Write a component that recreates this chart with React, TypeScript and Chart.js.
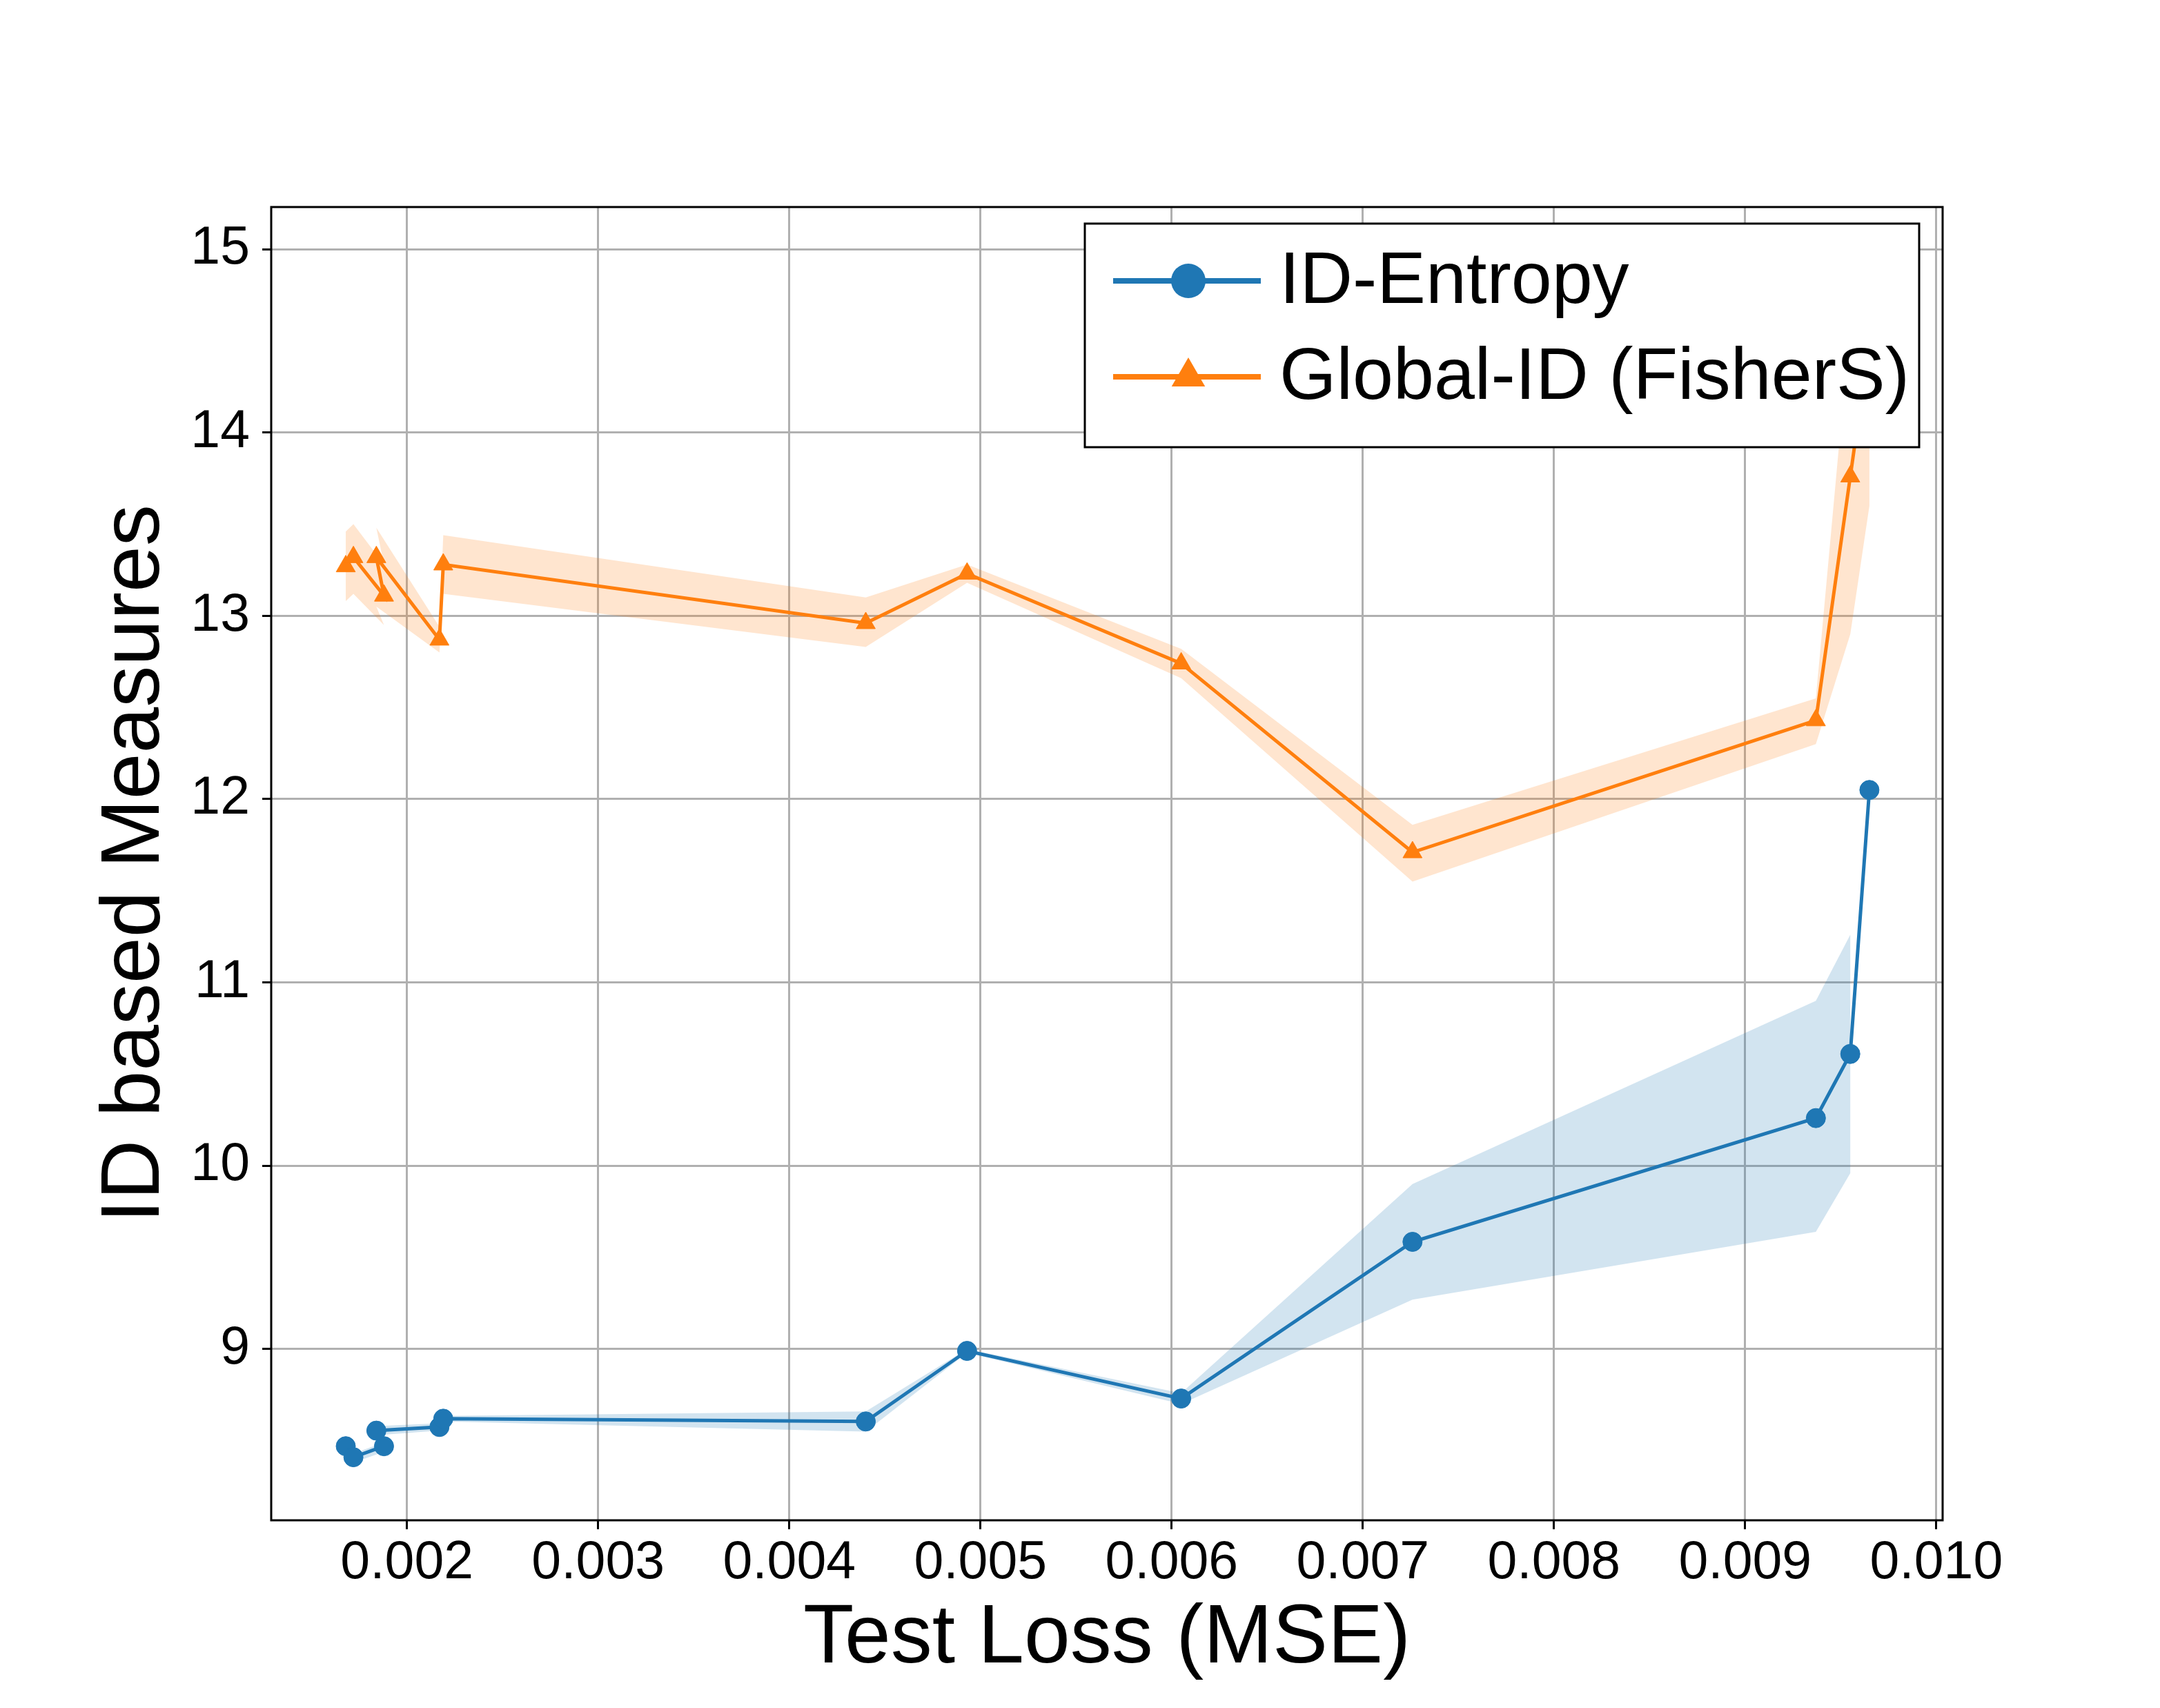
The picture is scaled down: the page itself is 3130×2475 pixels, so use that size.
import { useEffect, useRef } from "react";
import { Chart, registerables, Plugin } from "chart.js";

Chart.register(...registerables);

// test loss (MSE) of each model, in plotting order
const testLoss = [0.00168, 0.00172, 0.00188, 0.00184, 0.00217, 0.00219, 0.0044, 0.00493, 0.00605, 0.00726, 0.00937, 0.00955, 0.00965];

const idEntropy = [8.47, 8.41, 8.47, 8.555, 8.575, 8.62, 8.605, 8.99, 8.73, 9.585, 10.26, 10.61, 12.05];
const idEntropyLow = [8.44, 8.38, 8.44, 8.53, 8.555, 8.605, 8.55, 8.98, 8.7, 9.27, 9.64, 9.96, null];
const idEntropyHigh = [8.49, 8.43, 8.49, 8.58, 8.595, 8.635, 8.66, 9.0, 8.76, 9.9, 10.9, 11.26, null];

const globalId = [13.27, 13.32, 13.11, 13.32, 12.87, 13.28, 12.96, 13.23, 12.74, 11.71, 12.43, 13.76, 14.5];
const globalIdLow = [13.08, 13.12, 12.95, 13.05, 12.8, 13.12, 12.83, 13.18, 12.66, 11.55, 12.3, 12.9, 13.6];
const globalIdHigh = [13.46, 13.5, 13.28, 13.48, 12.94, 13.44, 13.1, 13.28, 12.82, 11.86, 12.55, 14.6, 14.95];

const xTickValues = [0.002, 0.003, 0.004, 0.005, 0.006, 0.007, 0.008, 0.009, 0.01];
const yTickValues = [9, 10, 11, 12, 13, 14, 15];

const seriesNames = ["ID-Entropy", "Global-ID (FisherS)"];

const BLUE = "#1f77b4";
const ORANGE = "#ff7f0e";
const FONT = "'Liberation Sans', Arial, sans-serif";

const toPoints = (ys: number[]) => testLoss.map((x, i) => ({ x, y: ys[i] }));

// closed outline: upper edge forward, lower edge back
const bandShape = (low: (number | null)[], high: (number | null)[]) => {
  const pts: { x: number; y: number }[] = [];
  testLoss.forEach((x, i) => {
    if (high[i] != null) pts.push({ x, y: high[i] as number });
  });
  for (let i = testLoss.length - 1; i >= 0; i--) {
    if (low[i] != null) pts.push({ x: testLoss[i], y: low[i] as number });
  }
  return pts;
};

const frameAndLegend: Plugin<"line"> = {
  id: "frameAndLegend",
  afterDraw(chart) {
    const { ctx, chartArea } = chart;
    ctx.save();
    // axes box
    ctx.strokeStyle = "#000";
    ctx.lineWidth = 3;
    ctx.strokeRect(chartArea.left, chartArea.top, chartArea.right - chartArea.left, chartArea.bottom - chartArea.top);

    // legend box
    const bx = 1572, by = 324, bw = 1209, bh = 324;
    ctx.fillStyle = "#fff";
    ctx.fillRect(bx, by, bw, bh);
    ctx.lineWidth = 3;
    ctx.strokeRect(bx, by, bw, bh);

    const rows = [
      { y: 407, color: BLUE, marker: "circle" },
      { y: 546, color: ORANGE, marker: "triangle" },
    ];
    rows.forEach((row, i) => {
      ctx.strokeStyle = row.color;
      ctx.fillStyle = row.color;
      ctx.lineWidth = 8;
      ctx.beginPath();
      ctx.moveTo(1613, row.y);
      ctx.lineTo(1827, row.y);
      ctx.stroke();
      const cx = 1722;
      ctx.beginPath();
      if (row.marker === "circle") {
        ctx.arc(cx, row.y, 25, 0, Math.PI * 2);
      } else {
        const r = 28;
        ctx.moveTo(cx, row.y - r);
        ctx.lineTo(cx + r * 0.866, row.y + r * 0.5);
        ctx.lineTo(cx - r * 0.866, row.y + r * 0.5);
        ctx.closePath();
      }
      ctx.fill();
      ctx.fillStyle = "#000";
      ctx.font = `106px ${FONT}`;
      ctx.textBaseline = "alphabetic";
      ctx.textAlign = "left";
      ctx.fillText(seriesNames[i], 1854, row.y + 32);
    });
    ctx.restore();
  },
};

export default function App() {
  const canvasRef = useRef<HTMLCanvasElement | null>(null);

  useEffect(() => {
    if (!canvasRef.current) return;

    const chart = new Chart(canvasRef.current, {
      type: "line",
      data: {
        datasets: [
          {
            label: seriesNames[0],
            data: toPoints(idEntropy),
            borderColor: BLUE,
            backgroundColor: BLUE,
            borderWidth: 5,
            pointRadius: 14,
            pointStyle: "circle",
            pointBorderWidth: 1,
            tension: 0,
            order: 0,
          },
          {
            label: seriesNames[1],
            data: toPoints(globalId),
            borderColor: ORANGE,
            backgroundColor: ORANGE,
            borderWidth: 5,
            pointRadius: 16,
            pointStyle: "triangle",
            pointBorderWidth: 1,
            tension: 0,
            order: 0,
          },
          {
            label: "band-blue",
            data: bandShape(idEntropyLow, idEntropyHigh),
            borderColor: "rgba(0,0,0,0)",
            borderWidth: 0,
            backgroundColor: "rgba(31,119,180,0.2)",
            pointRadius: 0,
            fill: "shape",
            tension: 0,
            order: 2,
          },
          {
            label: "band-orange",
            data: bandShape(globalIdLow, globalIdHigh),
            borderColor: "rgba(0,0,0,0)",
            borderWidth: 0,
            backgroundColor: "rgba(255,127,14,0.2)",
            pointRadius: 0,
            fill: "shape",
            tension: 0,
            order: 2,
          },
        ],
      },
      options: {
        animation: false,
        responsive: true,
        maintainAspectRatio: false,
        devicePixelRatio: 1,
        layout: { padding: { left: 0, right: 315, top: 300, bottom: 0 } },
        plugins: {
          legend: { display: false },
          tooltip: { enabled: false },
        },
        scales: {
          x: {
            type: "linear",
            min: 0.00129,
            max: 0.010033,
            afterFit: (scale) => {
              scale.height = 272;
            },
            afterBuildTicks: (scale) => {
              scale.ticks = xTickValues.map((value) => ({ value }));
            },
            border: { display: false },
            grid: {
              color: "#b0b0b0",
              lineWidth: 3,
              tickColor: "#000",
              tickWidth: 3,
              tickLength: 13,
            },
            ticks: {
              color: "#000",
              font: { family: FONT, size: 77 },
              padding: 4,
              maxRotation: 0,
              autoSkip: false,
              callback: (v) => Number(v).toFixed(3),
            },
            title: {
              display: true,
              text: "Test Loss (MSE)",
              color: "#000",
              font: { family: FONT, size: 120 },
              padding: { top: 0, bottom: 27 },
            },
          },
          y: {
            type: "linear",
            min: 8.066,
            max: 15.23,
            afterFit: (scale) => {
              scale.width = 393;
            },
            afterBuildTicks: (scale) => {
              scale.ticks = yTickValues.map((value) => ({ value }));
            },
            border: { display: false },
            grid: {
              color: "#b0b0b0",
              lineWidth: 3,
              tickColor: "#000",
              tickWidth: 3,
              tickLength: 13,
            },
            ticks: {
              color: "#000",
              font: { family: FONT, size: 77 },
              padding: 18,
              callback: (v) => String(v),
            },
            title: {
              display: true,
              text: "ID based Measures",
              color: "#000",
              font: { family: FONT, size: 120 },
              padding: { top: 125, bottom: 0 },
            },
          },
        },
      },
      plugins: [frameAndLegend],
    });

    return () => {
      chart.destroy();
    };
  }, []);

  return (
    <div style={{ position: "absolute", left: 0, top: 0, width: 3130, height: 2475, background: "#fff" }}>
      <canvas ref={canvasRef} />
    </div>
  );
}
